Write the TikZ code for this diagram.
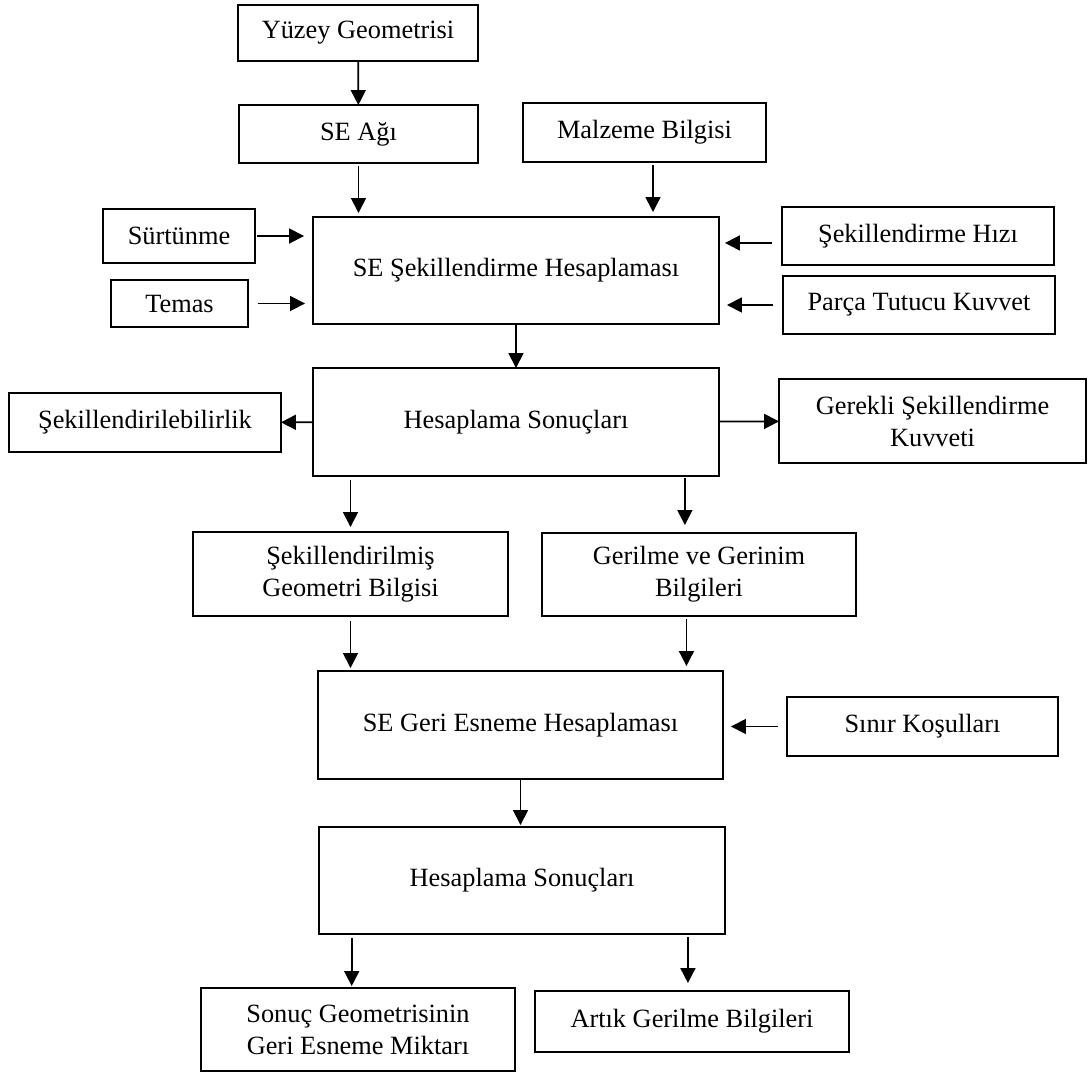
\documentclass[tikz,border=0pt]{standalone}
\usepackage{fontspec}
\setmainfont{Liberation Serif}
\usetikzlibrary{arrows.meta, calc}

\begin{document}
\begin{tikzpicture}[x=0.02cm, y=-0.02cm,
    kutu/.style={draw, line width=1pt, inner sep=0pt, outer sep=0pt, align=center, font=\fontsize{15}{18.2}\selectfont},
    ok/.style={-{Triangle[length=8.5pt, width=8.5pt]}, line width=1pt}]
    \useasboundingbox (0,0) rectangle (1088,1072);
    \node[kutu, minimum width=4.8cm, minimum height=1.12cm] (yuzey) at (358,33) {Yüzey Geometrisi};
    \node[kutu, minimum width=4.78cm, minimum height=1.16cm] (seagi) at (358.5,134) {SE Ağı};
    \node[kutu, minimum width=4.86cm, minimum height=1.18cm] (malzeme) at (644.5,132.5) {Malzeme Bilgisi};
    \node[kutu, minimum width=3.04cm, minimum height=1.08cm] (surtunme) at (179,236) {Sürtünme};
    \node[kutu, minimum width=2.74cm, minimum height=0.94cm] (temas) at (179.5,303.5) {Temas};
    \node[kutu, minimum width=8.12cm, minimum height=2.14cm] (sesek) at (516,270.5) {SE Şekillendirme Hesaplaması};
    \node[kutu, minimum width=5.44cm, minimum height=1.16cm] (sekhizi) at (918,236) {Şekillendirme Hızı};
    \node[kutu, minimum width=5.44cm, minimum height=1.16cm] (parca) at (919,305) {Parça Tutucu Kuvvet};
    \node[kutu, minimum width=8.12cm, minimum height=2.16cm] (hesA) at (516,422) {Hesaplama Sonuçları};
    \node[kutu, minimum width=5.44cm, minimum height=1.18cm] (sekbil) at (145,422.5) {Şekillendirilebilirlik};
    \node[kutu, minimum width=6.14cm, minimum height=1.68cm] (gerekli) at (932.5,421) {Gerekli Şekillendirme\\Kuvveti};
    \node[kutu, minimum width=6.3cm, minimum height=1.68cm] (sekgeo) at (350.5,574) {Şekillendirilmiş\\Geometri Bilgisi};
    \node[kutu, minimum width=6.28cm, minimum height=1.66cm] (gerilme) at (699,574.5) {Gerilme ve Gerinim\\Bilgileri};
    \node[kutu, minimum width=8.1cm, minimum height=2.16cm] (segeri) at (520.5,725) {SE Geri Esneme Hesaplaması};
    \node[kutu, minimum width=5.42cm, minimum height=1.18cm] (sinir) at (922.5,726.5) {Sınır Koşulları};
    \node[kutu, minimum width=8.12cm, minimum height=2.14cm] (hesB) at (522,880.5) {Hesaplama Sonuçları};
    \node[kutu, minimum width=6.28cm, minimum height=1.66cm] (sonuc) at (358,1029.5) {Sonuç Geometrisinin\\Geri Esneme Miktarı};
    \node[kutu, minimum width=6.28cm, minimum height=1.22cm] (artik) at (692,1021.5) {Artık Gerilme Bilgileri};

    \coordinate (malzemeok) at ($(malzeme.south west)!0.535!(malzeme.south east)$);
    \coordinate (hiziok) at ($(sekhizi.north west)!0.62!(sekhizi.south west)$);
    \coordinate (gerilmeust) at ($(gerilme.north west)!0.455!(gerilme.north east)$);
    \coordinate (gerilmealt) at ($(gerilme.south west)!0.46!(gerilme.south east)$);
    \coordinate (sonucok) at ($(sonuc.north west)!0.48!(sonuc.north east)$);
    \coordinate (artikok) at ($(artik.north west)!0.487!(artik.north east)$);

    \draw[ok] (yuzey) -- (seagi);
    \draw[ok, shorten <=0.06cm, shorten >=0.08cm] (seagi.south) -- (seagi.south |- sesek.north);
    \draw[ok, shorten <=0.06cm, shorten >=0.1cm] (malzemeok) -- (malzemeok |- sesek.north);
    \draw[ok, shorten <=0.04cm, shorten >=0.18cm] (surtunme.east) -- (surtunme.east -| sesek.west);
    \draw[ok, shorten <=0.2cm, shorten >=0.16cm] (temas.east) -- (temas.east -| sesek.west);
    \draw[ok, shorten <=0.2cm, shorten >=0.12cm] (hiziok) -- (hiziok -| sesek.east);
    \draw[ok, shorten <=0.2cm, shorten >=0.16cm] (parca.west) -- (parca.west -| sesek.east);
    \draw[ok] (sesek) -- (hesA);
    \draw[ok] (hesA) -- (sekbil);
    \draw[ok] (hesA) -- (gerekli);
    \draw[ok, shorten <=0.08cm, shorten >=0.1cm] (sekgeo.north |- hesA.south) -- (sekgeo.north);
    \draw[ok, shorten <=0.04cm, shorten >=0.16cm] (gerilmeust |- hesA.south) -- (gerilmeust);
    \draw[ok, shorten <=0.1cm, shorten >=0.06cm] (sekgeo.south) -- (sekgeo.south |- segeri.north);
    \draw[ok, shorten <=0.06cm, shorten >=0.1cm] (gerilmealt) -- (gerilmealt |- segeri.north);
    \draw[ok, shorten <=0.18cm, shorten >=0.16cm] (sinir.west) -- (sinir.west -| segeri.east);
    \draw[ok, shorten >=0.04cm] (segeri.south) -- (segeri.south |- hesB.north);
    \draw[ok, shorten <=0.08cm, shorten >=0.04cm] (sonucok |- hesB.south) -- (sonucok);
    \draw[ok, shorten <=0.06cm, shorten >=0.16cm] (artikok |- hesB.south) -- (artikok);
\end{tikzpicture}
\end{document}
